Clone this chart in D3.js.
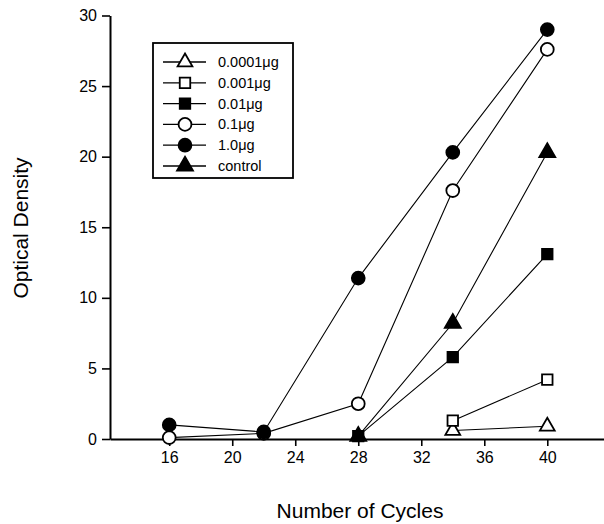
<!DOCTYPE html>
<html>
<head>
<meta charset="utf-8">
<script src="https://cdn.jsdelivr.net/npm/d3@7"></script>
<style>
  body { margin: 0; background: #fff; }
  svg { display: block; font-family: "Liberation Sans", Arial, sans-serif; }
</style>
</head>
<body>
<div id="chart"></div>
<script>
/* Data */
const cycles = [16, 22, 28, 34, 40];
const xTicks = [16, 20, 24, 28, 32, 36, 40];
const yTicks = [0, 5, 10, 15, 20, 25, 30];
const seriesNames = ["0.0001\u03bcg", "0.001\u03bcg", "0.01\u03bcg", "0.1\u03bcg", "1.0\u03bcg", "control"];
const od00001 = [null, null, null, 0.6, 0.9];
const od0001 = [null, null, null, 1.3, 4.2];
const od001 = [null, null, 0.2, 5.8, 13.1];
const od01 = [0.1, 0.4, 2.5, 17.6, 27.6];
const od1 = [1.0, 0.5, 11.4, 20.3, 29.0];
const odControl = [null, null, 0.2, 8.2, 20.3];

const WIDTH = 604
const HEIGHT = 524
const AXIS = {"LEFT": 110, "RIGHT": 604, "TOP": 15.5, "BOTTOM": 439}

/* marker styles per series: symbol type + filled or not */
const MARKERS = [
  {"type": d3.symbolTriangle, "size": 95, "filled": false},
  {"type": d3.symbolSquare, "size": 110, "filled": false},
  {"type": d3.symbolSquare, "size": 110, "filled": true},
  {"type": d3.symbolCircle, "size": 130, "filled": false},
  {"type": d3.symbolCircle, "size": 130, "filled": true},
  {"type": d3.symbolTriangle, "size": 110, "filled": true}
]
const allValues = [od00001, od0001, od001, od01, od1, odControl];

const series = seriesNames.map((name, i) => ({
  "name": name,
  "marker": MARKERS[i],
  "points": cycles.map((c, j) => ({"x": c, "y": allValues[i][j]})).filter((p) => p.y !== null)
}));

const svg = d3.select("#chart")
              .append("svg")
              .attr("width", WIDTH)
              .attr("height", HEIGHT);

const x = d3.scaleLinear()
            .domain([12.24, 43.6])
            .range([AXIS.LEFT, AXIS.RIGHT]);
const y = d3.scaleLinear()
            .domain([0, 30])
            .range([AXIS.BOTTOM, AXIS.TOP]);

/* axes */
const xAxis = svg.append("g")
                 .attr("transform", "translate(0," + AXIS.BOTTOM + ")")
                 .call(d3.axisBottom(x).tickValues(xTicks).tickSize(7).tickPadding(6).tickSizeOuter(0));
const yAxis = svg.append("g")
                 .attr("transform", "translate(" + AXIS.LEFT + ",0)")
                 .call(d3.axisLeft(y).tickValues(yTicks).tickSize(8).tickPadding(5).tickSizeOuter(0));
[xAxis, yAxis].forEach((g) => {
  g.select(".domain").attr("stroke", "#000").attr("stroke-width", 2);
  g.selectAll(".tick line").attr("stroke", "#000").attr("stroke-width", 1.6);
  g.selectAll(".tick text")
   .attr("fill", "#000")
   .style("font-size", "16px")
   .style("font-family", "'Liberation Sans', Arial, sans-serif");
});

/* axis titles */
svg.append("text")
   .attr("x", 360)
   .attr("y", 518)
   .attr("text-anchor", "middle")
   .style("font-size", "21px")
   .text("Number of Cycles");
svg.append("text")
   .attr("transform", "translate(28,228) rotate(-90)")
   .attr("text-anchor", "middle")
   .style("font-size", "21px")
   .text("Optical Density");

/* lines */
const line = d3.line().x((d) => x(d.x)).y((d) => y(d.y));
svg.append("g")
   .selectAll("path")
   .data(series)
   .enter()
   .append("path")
   .attr("d", (d) => line(d.points))
   .attr("fill", "none")
   .attr("stroke", "#000")
   .attr("stroke-width", 1.1);

/* markers */
const symbolPath = (m) => d3.symbol().type(m.type).size(m.size)();
series.forEach((s) => {
  svg.append("g")
     .selectAll("path")
     .data(s.points)
     .enter()
     .append("path")
     .attr("transform", (d) => "translate(" + x(d.x) + "," + y(d.y) + ")")
     .attr("d", symbolPath(s.marker))
     .attr("fill", s.marker.filled ? "#000" : "#fff")
     .attr("stroke", "#000")
     .attr("stroke-width", 1.8);
});

/* legend */
const LEGEND = {"X": 153, "Y": 43, "W": 140, "H": 135, "ROW0": 62, "ROW_STEP": 20.8}
const legend = svg.append("g");
legend.append("rect")
      .attr("x", LEGEND.X)
      .attr("y", LEGEND.Y)
      .attr("width", LEGEND.W)
      .attr("height", LEGEND.H)
      .attr("fill", "#fff")
      .attr("stroke", "#000")
      .attr("stroke-width", 1.8);
const rows = legend.selectAll("g.row")
                   .data(series)
                   .enter()
                   .append("g")
                   .attr("class", "row")
                   .attr("transform", (d, i) => "translate(0," + (LEGEND.ROW0 + i * LEGEND.ROW_STEP) + ")");
rows.append("line")
    .attr("x1", 163)
    .attr("x2", 206)
    .attr("stroke", "#000")
    .attr("stroke-width", 1.3);
rows.append("path")
    .attr("transform", "translate(185,0)")
    .attr("d", (d) => symbolPath(d.marker))
    .attr("fill", (d) => d.marker.filled ? "#000" : "#fff")
    .attr("stroke", "#000")
    .attr("stroke-width", 1.8);
rows.append("text")
    .attr("x", 218)
    .attr("y", 5)
    .style("font-size", "14.5px")
    .text((d) => d.name);
</script>
</body>
</html>
